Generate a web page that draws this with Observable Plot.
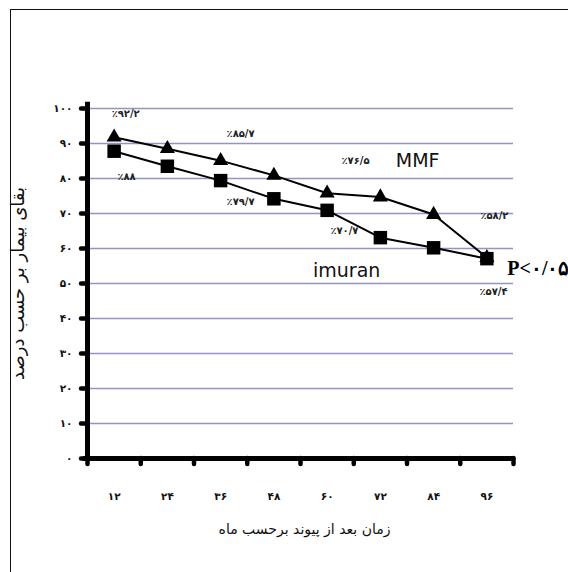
<!DOCTYPE html>
<html>
<head>
<meta charset="utf-8">
<script src="https://cdn.jsdelivr.net/npm/d3@7"></script>
<script src="https://cdn.jsdelivr.net/npm/@observablehq/plot@0.6"></script>
<style>
  html, body { margin: 0; padding: 0; background: #fff; }
  #wrap { position: relative; width: 568px; height: 572px; overflow: hidden; }
  #border { position: absolute; left: 10px; top: 9px; width: 600px; height: 600px; border: 1.5px solid #111; box-sizing: border-box; }
  #chart { position: absolute; left: 0; top: 0; }
</style>
</head>
<body>
<div id="wrap"><div id="border"></div><div id="chart"></div></div>
<script>
// ---- data ----
const months = [12, 24, 36, 48, 60, 72, 84, 96];
const mmfValues = [91.8, 88.5, 85.1, 80.9, 75.8, 74.7, 69.7, 57.4];
const imuranValues = [87.8, 83.5, 79.4, 74.2, 70.9, 63.1, 60.2, 57.1];
const yTicks = [0, 10, 20, 30, 40, 50, 60, 70, 80, 90, 100];
const valueLabels = ["٪۹۲/۲", "٪۸۵/۷", "٪۷۶/۵", "٪۵۸/۲", "٪۸۸", "٪۷۹/۷", "٪۷۰/۷", "٪۵۷/۴"];
const valueLabelMonth = [14.6, 40.5, 66.4, 97.7, 14.8, 40.5, 63.9, 97.5];
const valueLabelPct = [98.6, 92.9, 85.1, 69.4, 80.6, 73.4, 65.1, 47.7];
const seriesNames = ["MMF", "imuran"];
const seriesNameMonth = [80.4, 64.4];
const seriesNamePct = [85.1, 53.7];
const pText = "P<۰/۰۵";
const pMonth = 100.6;
const pPct = 54.3;
const xTitle = "زمان بعد از پیوند برحسب ماه";
const yTitle = "بقای بیمار بر حسب درصد";

// ---- helpers ----
const faDigits = "۰۱۲۳۴۵۶۷۸۹";
const fa = (n) => String(n).replace(/[0-9]/g, (d) => faDigits[+d]);
const mmf = months.map((m, i) => ({month: m, value: mmfValues[i]}));
const imuran = months.map((m, i) => ({month: m, value: imuranValues[i]}));
const step = months[1] - months[0];
const boundaries = months.map((m) => m - step / 2).concat([months[months.length - 1] + step / 2]);
const labels = valueLabels.map((t, i) => ({t, x: valueLabelMonth[i], y: valueLabelPct[i]}));
const names = seriesNames.map((t, i) => ({t, x: seriesNameMonth[i], y: seriesNamePct[i]}));

const chart = Plot.plot({
  width: 568,
  height: 572,
  marginLeft: 87,
  marginRight: 55,
  marginTop: 108,
  marginBottom: 114,
  x: {domain: [boundaries[0], boundaries[boundaries.length - 1]]},
  y: {domain: [0, 100]},
  style: {fontFamily: "DejaVu Sans, sans-serif", background: "transparent", overflow: "visible"},
  marks: [
    Plot.gridY(yTicks, {stroke: "#9494c4", strokeOpacity: 1, strokeWidth: 1.4}),
    Plot.axisY(yTicks, {tickSize: 6, strokeWidth: 4.5, strokeLinecap: "round", tickPadding: 9,
      tickFormat: fa, fontWeight: "bold", fontSize: 10.5, fill: "#111", label: null}),
    Plot.axisX(boundaries, {tickSize: 6, strokeWidth: 4.5, strokeLinecap: "round",
      tickFormat: () => "", label: null}),
    Plot.axisX(months, {tickSize: 0, tickPadding: 34, tickFormat: fa, fontWeight: "bold",
      fontSize: 10.5, fill: "#111", label: null}),
    Plot.ruleX([boundaries[0]], {y1: 0, y2: 101.8, strokeWidth: 5, stroke: "#000"}),
    Plot.ruleY([0], {x1: boundaries[0] - 0.6, x2: boundaries[boundaries.length - 1], strokeWidth: 5, stroke: "#000", strokeLinecap: "round"}),
    Plot.line(mmf, {x: "month", y: "value", stroke: "#000", strokeWidth: 2}),
    Plot.line(imuran, {x: "month", y: "value", stroke: "#000", strokeWidth: 2}),
    Plot.dot(mmf, {x: "month", y: "value", symbol: "triangle", r: 5.6, fill: "#000", stroke: "none"}),
    Plot.dot(imuran, {x: "month", y: "value", symbol: "square", r: 7.6, fill: "#000", stroke: "none"}),
    Plot.text(labels, {x: "x", y: "y", text: "t", fontSize: 10, fontWeight: "bold", fill: "#222"}),
    Plot.text(names, {x: "x", y: "y", text: "t", fontSize: 19, fill: "#111"}),
    Plot.text([pText], {x: pMonth, y: pPct, text: (d) => d, textAnchor: "start", fontSize: 20,
      fontWeight: "bold", fontFamily: "Liberation Serif, DejaVu Serif, serif", fill: "#000"}),
    Plot.text([xTitle], {frameAnchor: "bottom", dy: 75, dx: 4, text: (d) => d, fontSize: 14, fill: "#111"}),
    Plot.text([yTitle], {frameAnchor: "left", textAnchor: "middle", dx: -69, rotate: -90, text: (d) => d, fontSize: 18, fill: "#111"})
  ]
});
document.getElementById("chart").appendChild(chart);
</script>
</body>
</html>
